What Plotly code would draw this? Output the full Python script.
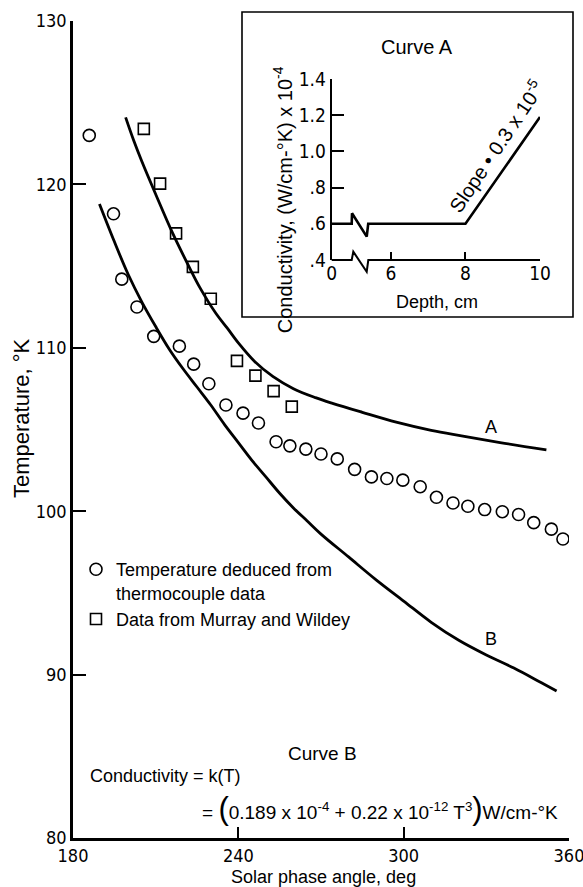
import plotly.graph_objects as go

# ---------------- data ----------------
# Curve A (computed, constant-then-linear conductivity profile)
curve_a_angle = [199.1, 202, 205, 210, 216.2, 222, 226, 231.9, 236, 240, 246, 252.5,
                 260, 268, 274.2, 285, 297.3, 310, 321.5, 335, 351.8]
curve_a_temp = [124.1, 122.7, 121.4, 119.4, 117.0, 115.0, 113.7, 112.1, 111.2, 110.3, 109.15, 108.25,
                107.5, 106.95, 106.6, 106.05, 105.45, 104.95, 104.6, 104.2, 103.75]

# Curve B (temperature-dependent conductivity)
curve_b_angle = [189.6, 195, 200, 205, 210, 215, 220, 225, 230, 235, 240, 245, 250, 255, 260,
                 265, 270, 280, 290, 300, 310, 320, 330, 340, 350, 355.5]
curve_b_temp = [118.8, 116.5, 114.5, 112.8, 111.3, 109.9, 108.7, 107.6, 106.5, 105.3, 104.2, 103.1,
                102.1, 101.1, 100.2, 99.4, 98.6, 97.2, 95.8, 94.5, 93.2, 92.1, 91.2, 90.4, 89.5, 89.0]

# Temperature deduced from thermocouple data (circles)
tc_angle = [185.9, 194.7, 197.7, 203.2, 209.3, 218.6, 223.8, 229.3, 235.5, 241.7, 247.3, 253.7,
            258.7, 264.5, 270.0, 275.9, 282.2, 288.3, 293.9, 299.7, 306.0, 311.9, 317.9, 323.3,
            329.4, 335.8, 341.7, 347.2, 353.6, 357.8]
tc_temp = [123.0, 118.2, 114.2, 112.5, 110.7, 110.1, 109.0, 107.8, 106.5, 106.0, 105.4, 104.25,
           104.0, 103.8, 103.5, 103.2, 102.56, 102.1, 102.0, 101.9, 101.5, 100.85, 100.5, 100.3,
           100.1, 99.97, 99.8, 99.3, 98.9, 98.3]

# Data from Murray and Wildey (squares)
mw_angle = [205.7, 211.6, 217.4, 223.5, 230.0, 239.5, 246.2, 252.8, 259.4]
mw_temp = [123.4, 120.05, 117.0, 114.95, 113.0, 109.2, 108.3, 107.35, 106.4]

# Main axis ticks
x_ticks = [180, 240, 300, 360]
y_ticks = [80, 90, 100, 110, 120, 130]

# Inset (Curve A conductivity profile) - depth axis is broken between 0 and 6 cm
inset_depth = [0, 8, 10]
inset_cond = [0.6, 0.6, 1.19]
inset_x_ticks = [0, 6, 8, 10]
inset_y_ticks = [0.4, 0.6, 0.8, 1.0, 1.2, 1.4]
inset_y_ticktext = [".4", ".6", ".8", "1.0", "1.2", "1.4"]

# ---------------- helpers ----------------
W, H = 583, 887
L, R, T, B = 73, 14, 21, 49
PW, PH = W - L - R, H - T - B


def pxx(x):
    return (x - L) / PW


def pxy(y):
    return 1 - (y - T) / PH


BREAK_U0 = 4.41  # where "0 cm" sits on the broken inset axis


def depth_to_u(d):
    return BREAK_U0 if d == 0 else d


# inset line with zig-zag break symbol on it
ins_u = [depth_to_u(inset_depth[0]), 4.947, 4.955, 5.35, 5.39] + [depth_to_u(d) for d in inset_depth[1:]]
ins_v = [inset_cond[0], 0.6, 0.658, 0.529, 0.6] + inset_cond[1:]

TEXT_FONT = "Liberation Sans, Arial, sans-serif"
NUM_FONT = "Liberation Sans Narrow, DejaVu Sans Condensed, Liberation Sans, sans-serif"

fig = go.Figure()

fig.add_trace(go.Scatter(x=curve_a_angle, y=curve_a_temp, mode="lines", line=dict(color="black", width=2.8, shape="spline"),
                         showlegend=False, hoverinfo="skip"))
fig.add_trace(go.Scatter(x=curve_b_angle, y=curve_b_temp, mode="lines", line=dict(color="black", width=2.8, shape="spline"),
                         showlegend=False, hoverinfo="skip"))
fig.add_trace(go.Scatter(x=tc_angle, y=tc_temp, mode="markers",
                         marker=dict(symbol="circle-open", size=12, color="black", line=dict(width=1.6)),
                         name="Temperature deduced from<br>thermocouple data"))
fig.add_trace(go.Scatter(x=mw_angle, y=mw_temp, mode="markers",
                         marker=dict(symbol="square-open", size=11, color="black", line=dict(width=1.6)),
                         name="Data from Murray and Wildey"))

# inset trace
fig.add_trace(go.Scatter(x=ins_u, y=ins_v, xaxis="x2", yaxis="y2", mode="lines",
                         line=dict(color="black", width=2.6), showlegend=False, hoverinfo="skip"))

axis_common = dict(showgrid=False, zeroline=False, showline=True, linecolor="black", ticks="inside",
                   tickcolor="black", mirror=False, automargin=False)

fig.update_layout(
    width=W, height=H, margin=dict(l=L, r=R, t=T, b=B, autoexpand=False),
    paper_bgcolor="white", plot_bgcolor="white",
    font=dict(family=TEXT_FONT, size=18, color="black"),
    xaxis=dict(axis_common, range=[180, 360], tickvals=x_ticks, ticklen=11, tickwidth=2, linewidth=2.5,
               ticklabeloverflow="allow", tickfont=dict(family=NUM_FONT, size=18)),
    yaxis=dict(axis_common, range=[80, 130], tickvals=y_ticks, ticklen=13, tickwidth=2, linewidth=2.5,
               ticklabeloverflow="allow", tickfont=dict(family=NUM_FONT, size=18)),
    xaxis2=dict(showgrid=False, zeroline=False, showline=False, ticks="inside", tickcolor="black",
                domain=[pxx(331.7), pxx(540)], anchor="y2", range=[BREAK_U0, 10], automargin=False,
                tickvals=[depth_to_u(d) for d in inset_x_ticks], ticktext=[str(d) for d in inset_x_ticks],
                ticklen=8, tickwidth=2, tickfont=dict(family=NUM_FONT, size=19)),
    yaxis2=dict(showgrid=False, zeroline=False, showline=True, linecolor="black", linewidth=2,
                ticks="inside", tickcolor="black", domain=[pxy(260), pxy(79)], anchor="x2",
                range=[0.4, 1.4], tickvals=inset_y_ticks, ticktext=inset_y_ticktext, automargin=False,
                ticklen=12, tickwidth=2, tickfont=dict(family=NUM_FONT, size=19)),
    legend=dict(x=pxx(76), xanchor="left", y=pxy(551), yanchor="top", bgcolor="rgba(0,0,0,0)",
                font=dict(size=18), valign="top", itemwidth=30, tracegroupgap=0),
)

# inset frame and broken depth axis line
fig.add_shape(type="rect", xref="paper", yref="paper", x0=pxx(242), x1=pxx(573), y0=pxy(317), y1=pxy(12),
              line=dict(color="black", width=1.6), fillcolor="rgba(0,0,0,0)", layer="below")
brk = [(331.7, 260), (351.7, 260), (353.3, 251.7), (366.7, 271.7), (368.3, 260), (540, 260)]
path = "M " + " L ".join(f"{pxx(a):.5f},{pxy(b):.5f}" for a, b in brk)
fig.add_shape(type="path", xref="paper", yref="paper", path=path, line=dict(color="black", width=2))

ann = []


def add_text(text, x, y, size=18, xanchor="center", angle=0, family=TEXT_FONT):
    ann.append(dict(text=text, x=pxx(x), y=pxy(y), xref="paper", yref="paper", showarrow=False,
                    xanchor=xanchor, yanchor="middle", textangle=angle, font=dict(size=size, family=family)))


add_text("Temperature, °K", 21, 418, size=22, angle=-90)
add_text("Solar phase angle, deg", 323, 877, size=18)
add_text("Curve A", 416.7, 46.7, size=20)
add_text("Depth, cm", 436.7, 301.7, size=18)
add_text("Conductivity, (W/cm-°K) x 10<sup>-4</sup>", 283.3, 200, size=20, angle=-90)
add_text("Slope • 0.3 x 10<sup>-5</sup>", 495.7, 145.7, size=20, angle=-56)
add_text("Curve B", 322, 753, size=19)
add_text("Conductivity = k(T)", 87.5, 776, size=18, xanchor="left")
add_text("= <span style='font-size:31px'>(</span>0.189 x 10<sup>-4</sup> + 0.22 x 10<sup>-12</sup> T<sup>3</sup>"
         "<span style='font-size:31px'>)</span>W/cm-°K", 200, 808, size=19, xanchor="left")

fig.update_layout(annotations=ann)

# curve labels in data coordinates
fig.add_annotation(text="A", x=331.8, y=105.17, xref="x", yref="y", showarrow=False, font=dict(size=18))
fig.add_annotation(text="B", x=331.7, y=92.2, xref="x", yref="y", showarrow=False, font=dict(size=18))

fig.write_html("out.html", config={"displayModeBar": False},
               post_script="document.body.style.margin='0px';document.body.style.padding='0px';"
                           "document.body.style.overflow='hidden';")
